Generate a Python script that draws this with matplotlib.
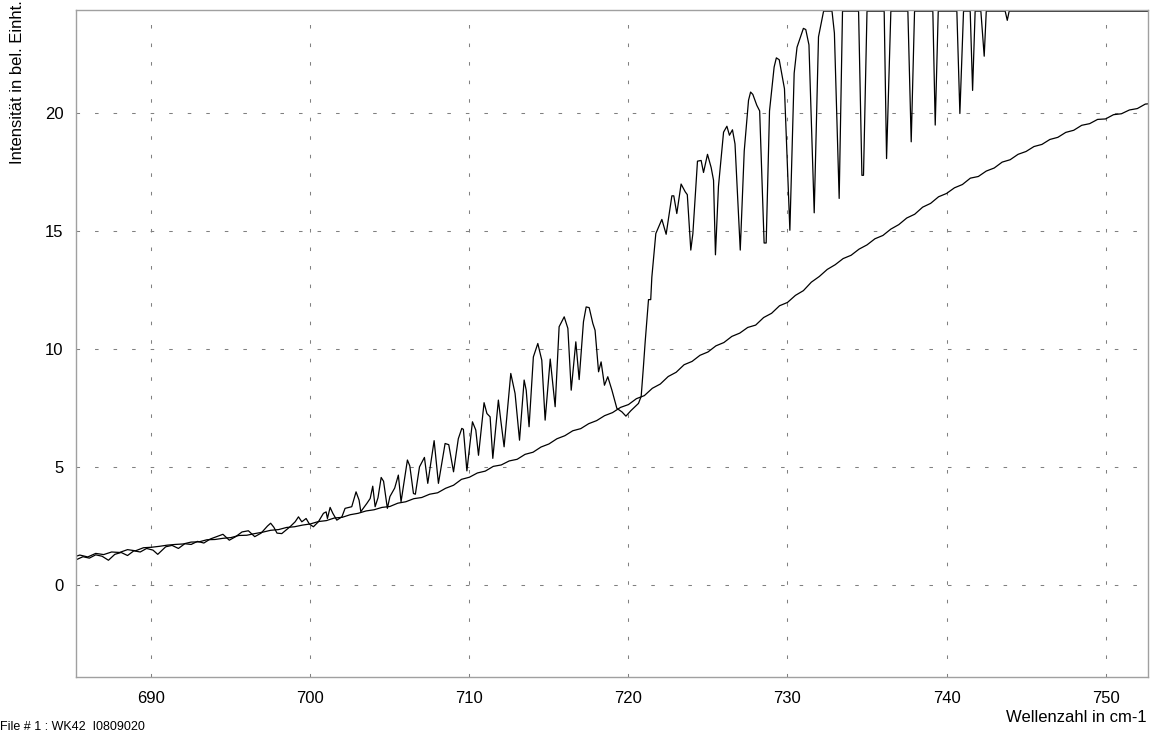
import numpy as np
import matplotlib
matplotlib.use("Agg")
import matplotlib.pyplot as plt

plt.rcParams['font.family'] = ['Liberation Sans', 'DejaVu Sans']

# reference (empty cell) spectrum, sampled every 0.5 cm-1 from 685.0
base_start = 685.0
base_step = 0.5
base_y = [1.16, 1.27, 1.19, 1.34, 1.29, 1.40, 1.38, 1.50, 1.45, 1.58,
          1.60, 1.64, 1.69, 1.72, 1.74, 1.82, 1.83, 1.92, 1.93, 1.98,
          2.01, 2.10, 2.11, 2.18, 2.24, 2.32, 2.35, 2.44, 2.47, 2.54,
          2.59, 2.69, 2.73, 2.84, 2.87, 2.98, 3.04, 3.14, 3.19, 3.29,
          3.33, 3.47, 3.53, 3.66, 3.71, 3.85, 3.91, 4.10, 4.23, 4.48,
          4.57, 4.75, 4.83, 5.03, 5.09, 5.26, 5.33, 5.54, 5.63, 5.85,
          5.98, 6.20, 6.33, 6.54, 6.63, 6.84, 6.97, 7.18, 7.31, 7.53,
          7.65, 7.90, 8.03, 8.34, 8.52, 8.84, 9.02, 9.34, 9.48, 9.74,
          9.88, 10.14, 10.28, 10.54, 10.68, 10.92, 11.02, 11.34, 11.52, 11.84,
          11.98, 12.28, 12.48, 12.84, 13.08, 13.38, 13.58, 13.84, 13.98, 14.24,
          14.42, 14.68, 14.82, 15.09, 15.28, 15.56, 15.72, 16.02, 16.18, 16.46,
          16.60, 16.84, 16.98, 17.25, 17.32, 17.55, 17.68, 17.93, 18.03, 18.26,
          18.38, 18.59, 18.68, 18.89, 18.98, 19.19, 19.28, 19.49, 19.56, 19.74,
          19.76, 19.94, 19.98, 20.14, 20.20, 20.39, 20.42]

# sample spectrum (absorption lines), vertices
spec_x = [685.0, 685.3, 685.7, 686.1, 686.5, 686.9, 687.3, 687.7, 688.1, 688.5,
          688.9, 689.3, 689.7, 690.1, 690.4, 690.9, 691.3, 691.7, 692.1, 692.5,
          692.9, 693.3, 693.7, 694.1, 694.5, 694.9, 695.3, 695.7, 696.1, 696.5,
          696.9, 697.3, 697.5, 697.7, 697.9, 698.2, 698.5, 698.72, 699.04, 699.25,
          699.46, 699.73, 699.94, 700.19, 700.5, 700.82, 700.99, 701.07, 701.24, 701.41,
          701.66, 701.98, 702.18, 702.6, 702.87, 703.06, 703.17, 703.55, 703.76, 703.92,
          704.07, 704.25, 704.45, 704.6, 704.84, 705.0, 705.3, 705.53, 705.7, 705.85,
          706.1, 706.25, 706.48, 706.6, 706.86, 707.17, 707.38, 707.78, 708.05, 708.47,
          708.7, 709.0, 709.3, 709.52, 709.62, 709.84, 710.19, 710.4, 710.57, 710.92,
          711.1, 711.3, 711.47, 711.82, 711.97, 712.18, 712.6, 712.87, 713.15, 713.44,
          713.57, 713.75, 714.02, 714.3, 714.55, 714.76, 715.08, 715.39, 715.64, 715.96,
          716.19, 716.4, 716.69, 716.9, 717.17, 717.34, 717.53, 717.76, 717.9, 718.12,
          718.28, 718.49, 718.7, 718.96, 719.27, 719.59, 719.84, 720.15, 720.63, 720.8,
          720.94, 721.05, 721.26, 721.4, 721.47, 721.72, 722.1, 722.37, 722.73, 722.85,
          723.04, 723.31, 723.57, 723.7, 723.92, 724.05, 724.34, 724.57, 724.72, 724.97,
          725.2, 725.35, 725.47, 725.66, 725.98, 726.19, 726.35, 726.54, 726.7, 727.03,
          727.28, 727.55, 727.68, 727.82, 728.07, 728.25, 728.53, 728.66, 728.87, 729.16,
          729.3, 729.48, 729.81, 730.15, 730.42, 730.6, 731.0, 731.15, 731.35, 731.68,
          731.95, 732.27, 732.8, 732.95, 733.25, 733.46, 734.47, 734.68, 734.78, 735.0,
          736.08, 736.23, 736.5, 737.57, 737.78, 737.99, 739.14, 739.29, 739.48, 740.65,
          740.84, 741.07, 741.49, 741.64, 741.8, 742.16, 742.37, 742.5, 743.69, 743.82,
          743.94, 753.0]
spec_y = [1.05, 1.08, 1.20, 1.14, 1.28, 1.22, 1.05, 1.30, 1.38, 1.25,
          1.45, 1.40, 1.55, 1.48, 1.30, 1.62, 1.68, 1.55, 1.75, 1.72,
          1.85, 1.78, 1.95, 2.05, 2.15, 1.90, 2.05, 2.25, 2.30, 2.05,
          2.20, 2.50, 2.62, 2.45, 2.20, 2.18, 2.35, 2.47, 2.68, 2.89,
          2.68, 2.82, 2.58, 2.47, 2.68, 3.04, 3.10, 2.82, 3.29, 3.04,
          2.75, 2.89, 3.25, 3.32, 3.95, 3.60, 3.11, 3.46, 3.67, 4.19,
          3.32, 3.70, 4.56, 4.40, 3.25, 3.75, 4.11, 4.66, 3.53, 4.20,
          5.30, 5.05, 3.88, 3.85, 5.01, 5.41, 4.31, 6.12, 4.31, 6.00,
          5.95, 4.80, 6.20, 6.64, 6.60, 4.84, 6.92, 6.57, 5.50, 7.73,
          7.27, 7.13, 5.37, 7.84, 6.99, 5.86, 8.97, 8.12, 6.14, 8.69,
          8.26, 6.71, 9.67, 10.24, 9.53, 6.99, 9.58, 7.56, 10.95, 11.37,
          10.88, 8.26, 10.31, 8.71, 11.16, 11.79, 11.76, 11.09, 10.80, 9.04,
          9.46, 8.47, 8.83, 8.26, 7.49, 7.34, 7.16, 7.39, 7.70, 8.00,
          9.25, 10.30, 12.10, 12.10, 13.05, 14.90, 15.50, 14.87, 16.50, 16.50,
          15.75, 17.00, 16.67, 16.55, 14.20, 14.90, 17.97, 18.00, 17.49, 18.26,
          17.70, 17.16, 14.00, 16.90, 19.20, 19.45, 19.07, 19.30, 18.70, 14.20,
          18.40, 20.55, 20.90, 20.80, 20.34, 20.10, 14.50, 14.50, 20.10, 21.96,
          22.35, 22.27, 21.04, 15.04, 21.70, 22.80, 23.60, 23.55, 22.90, 15.78,
          23.24, 24.33, 24.33, 23.40, 16.39, 24.33, 24.33, 17.37, 17.37, 24.33,
          24.33, 18.08, 24.33, 24.33, 18.79, 24.33, 24.33, 19.50, 24.33, 24.33,
          19.99, 24.33, 24.33, 20.97, 24.33, 24.33, 22.42, 24.33, 24.33, 23.94,
          24.33, 24.33]

x_ticks = [690, 700, 710, 720, 730, 740, 750]
y_ticks = [0, 5, 10, 15, 20]

base_x = base_start + base_step * np.arange(len(base_y))

fig = plt.figure(figsize=(11.51, 7.31), dpi=100)
ax = fig.add_axes([76 / 1151, 1 - 677 / 731, (1148 - 76) / 1151, (677 - 9.5) / 731])

ax.plot(base_x, base_y, color='black', lw=0.9)
ax.plot(spec_x, spec_y, color='black', lw=0.9)

ax.set_xlim(685.26, 752.67)
ax.set_ylim(-3.9, 24.4)
ax.set_xticks(x_ticks)
ax.set_yticks(y_ticks)
ax.tick_params(axis='both', length=0, labelsize=12)
ax.tick_params(axis='x', pad=10)
ax.tick_params(axis='y', pad=9)
ax.grid(True, color='#808080', lw=0.75, linestyle=(0, (3.4, 14.4)))
for s in ax.spines.values():
    s.set_color('#a0a0a0')
    s.set_linewidth(1.0)

fig.text(0.0156, 0.999, 'Intensität in bel. Einht.', rotation=90,
         ha='center', va='top', fontsize=12)
fig.text(1147 / 1151, 1 - 718 / 731, 'Wellenzahl in cm-1',
         ha='right', va='center', fontsize=12)
fig.text(0.0, 1 - 720 / 731, 'File # 1 : WK42_I0809020',
         ha='left', va='top', fontsize=9)

fig.savefig('out.png', dpi=100)
